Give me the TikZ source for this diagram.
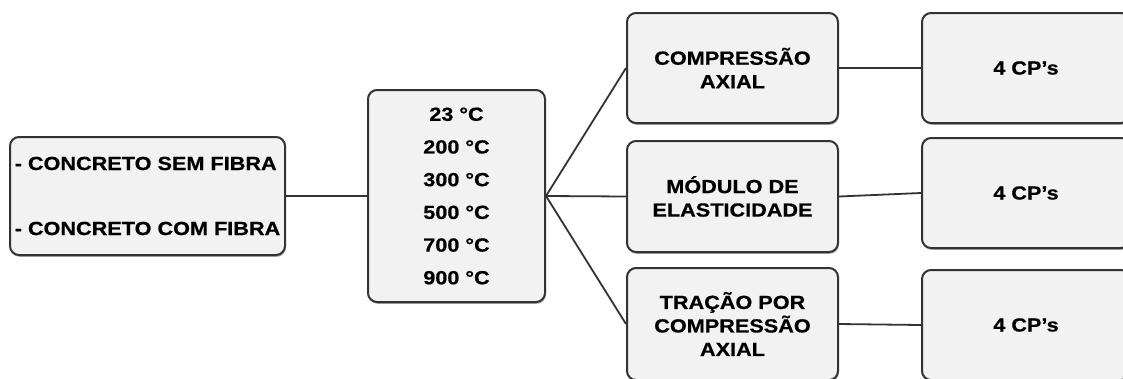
\documentclass[tikz,border=0pt]{standalone}
\usepackage{fontspec}
\setmainfont{Liberation Sans}[FakeStretch=1.14, BoldFeatures={FakeBold=0.6}]
\usetikzlibrary{shadows}
\definecolor{boxline}{HTML}{333333}
\definecolor{boxfill}{HTML}{F2F2F2}
\begin{document}
\begin{tikzpicture}[x=1pt,y=-1pt,
  box/.style={draw=boxline, line width=2pt, fill=boxfill, rounded corners=9pt,
    inner sep=0pt, text=black, align=center,
    font=\bfseries\fontsize{19}{23.5}\selectfont,
    drop shadow={shadow xshift=0.8pt, shadow yshift=-1.8pt, opacity=0.35, fill=black}},
  link/.style={draw=boxline, line width=1.8pt}]
\useasboundingbox (0,0) rectangle (1123,378);
\clip (0,0) rectangle (1123,378);
\node[box, minimum width=275, minimum height=118, align=left,
  font=\bfseries\fontsize{19}{65}\selectfont] (src) at (147.5,196)
  {- CONCRETO SEM FIBRA\\- CONCRETO COM FIBRA};
\node[box, minimum width=177, minimum height=212,
  font=\bfseries\fontsize{19}{32.7}\selectfont] (temp) at (456.5,196)
  {23 °C\\200 °C\\300 °C\\500 °C\\700 °C\\900 °C};
\node[box, minimum width=211, minimum height=110] (c1) at (732.5,68) {COMPRESSÃO\\AXIAL};
\node[box, minimum width=211, minimum height=111] (c2) at (732.5,196.5) {MÓDULO DE\\ELASTICIDADE};
\node[box, minimum width=211, minimum height=112] (c3) at (732.5,324) {TRAÇÃO POR\\COMPRESSÃO\\AXIAL};
\node[box, minimum width=208, minimum height=110] (d1) at (1026,68) {4 CP’s};
\node[box, minimum width=208, minimum height=110] (d2) at (1026,193) {4 CP’s};
\node[box, minimum width=208, minimum height=110] (d3) at (1026,325) {4 CP’s};
\draw[link] (src.east) -- (temp.west);
\draw[link] (temp.east) -- (c1.west);
\draw[link] (temp.east) -- (c2.west);
\draw[link] (temp.east) -- (c3.west);
\draw[link] (c1.east) -- (d1.west);
\draw[link] (c2.east) -- (d2.west);
\draw[link] (c3.east) -- (d3.west);
\end{tikzpicture}
\end{document}
